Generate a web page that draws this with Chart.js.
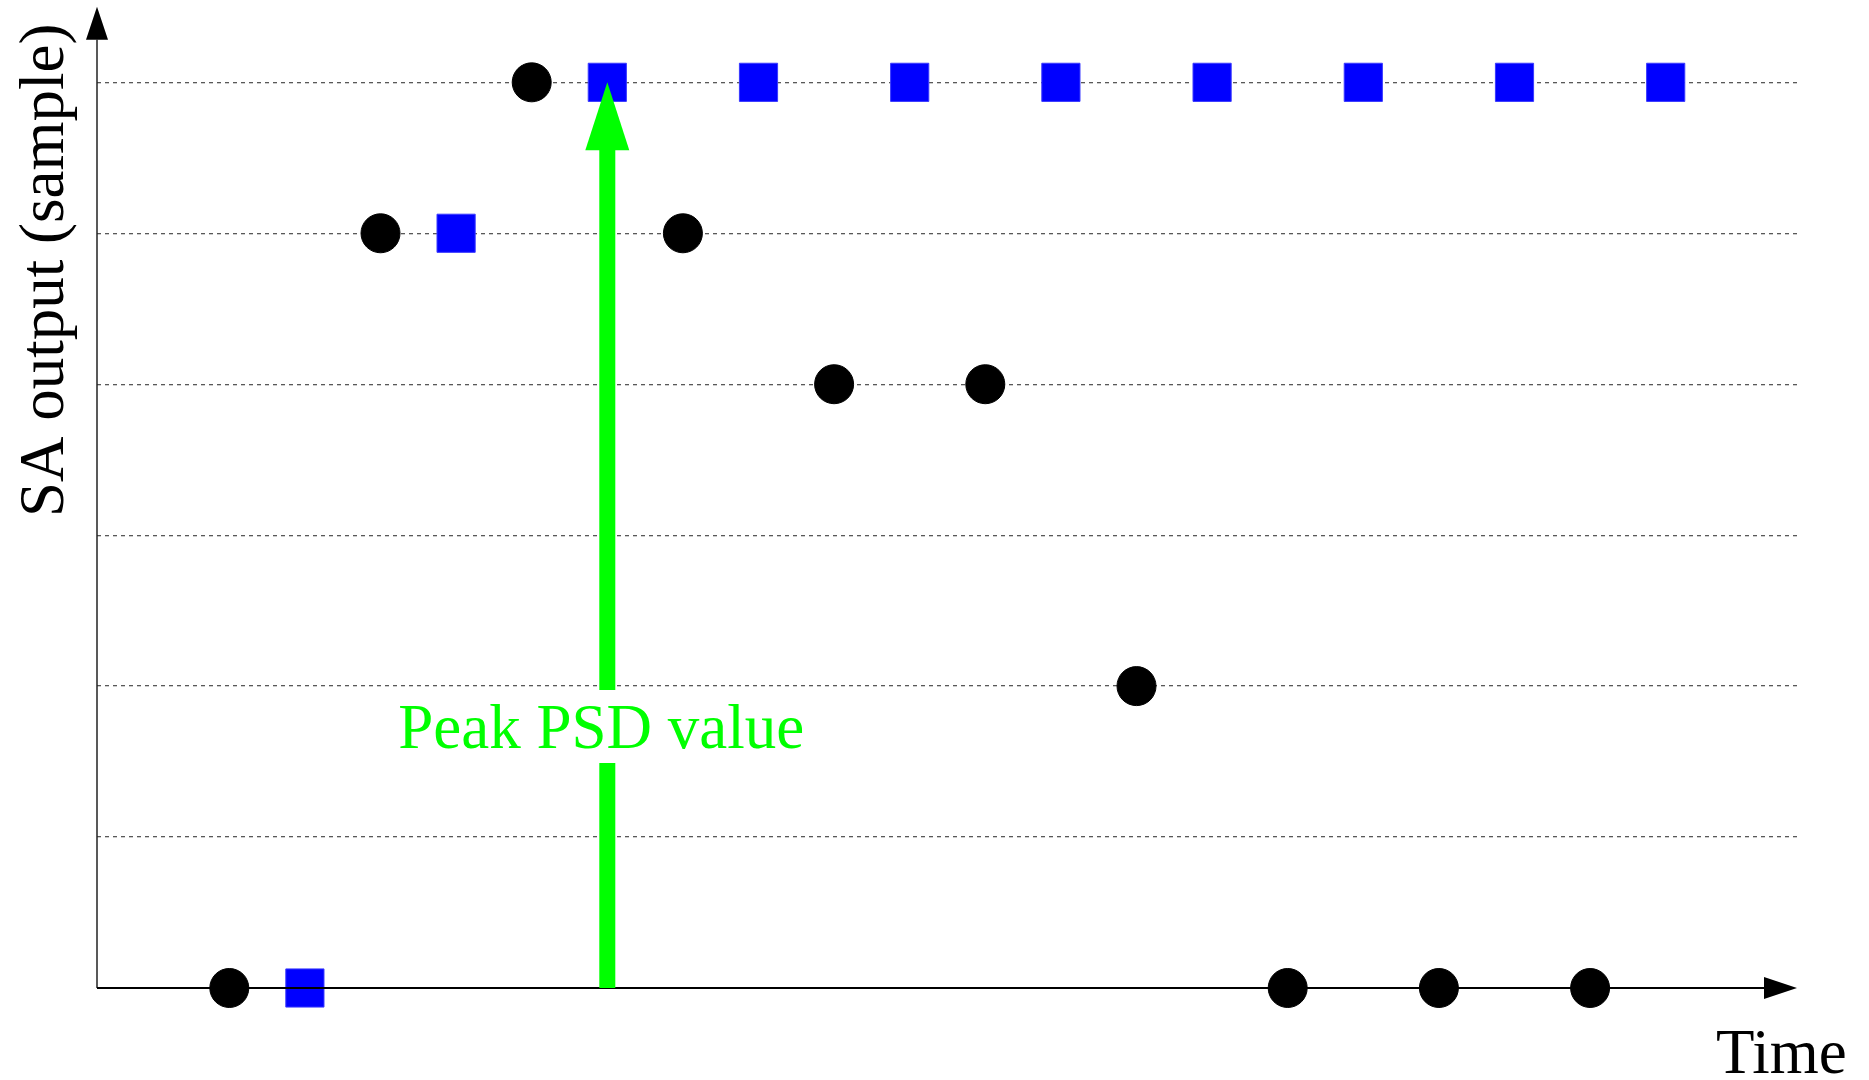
<!DOCTYPE html>
<html>
<head>
<meta charset="utf-8">
<script src="https://cdn.jsdelivr.net/npm/chart.js@4.4.1/dist/chart.umd.min.js"></script>
<style>
  html, body { margin: 0; padding: 0; background: #fff; }
  canvas { display: block; }
</style>
</head>
<body>
<canvas id="saChart" width="1869" height="1080"></canvas>
<script>
// sample times (in sample periods) and SA output levels
var circleTimes = [0, 1, 2, 3, 4, 5, 6, 7, 8, 9];
var circleLevels = [0, 5, 6, 5, 4, 4, 2, 0, 0, 0];
var squareTimes = [0.5, 1.5, 2.5, 3.5, 4.5, 5.5, 6.5, 7.5, 8.5, 9.5];
var squareLevels = [0, 5, 6, 6, 6, 6, 6, 6, 6, 6];
var levelTicks = [0, 1, 2, 3, 4, 5, 6];
var peakTime = 2.5;
var peakLevel = 6;

var serif = '"Liberation Serif", "Times New Roman", serif';

function toPoints(xs, ys) {
    return xs.map(function (x, i) { return { x: x, y: ys[i] }; });
}

// axes with arrows, axis titles and the green peak marker
var decorations = {
    id: 'decorations',
    afterDatasetsDraw: function (chart) {
        var ctx = chart.ctx;
        var area = chart.chartArea;
        var xs = chart.scales.x, ys = chart.scales.y;
        var y0 = ys.getPixelForValue(0);
        var yTop = ys.getPixelForValue(6.5);
        ctx.save();

        // y axis
        ctx.strokeStyle = '#222';
        ctx.lineWidth = 1.5;
        ctx.beginPath();
        ctx.moveTo(area.left, y0);
        ctx.lineTo(area.left, yTop + 33);
        ctx.stroke();
        ctx.fillStyle = '#000';
        ctx.beginPath();
        ctx.moveTo(area.left, yTop);
        ctx.lineTo(area.left - 11, yTop + 33);
        ctx.lineTo(area.left + 11, yTop + 33);
        ctx.closePath();
        ctx.fill();

        // x axis
        ctx.strokeStyle = '#000';
        ctx.lineWidth = 2;
        ctx.beginPath();
        ctx.moveTo(area.left, y0);
        ctx.lineTo(area.right - 34, y0);
        ctx.stroke();
        ctx.beginPath();
        ctx.moveTo(area.right - 1, y0);
        ctx.lineTo(area.right - 34, y0 - 11);
        ctx.lineTo(area.right - 34, y0 + 11);
        ctx.closePath();
        ctx.fill();

        // titles
        ctx.font = '63px ' + serif;
        ctx.fillStyle = '#000';
        ctx.textBaseline = 'alphabetic';
        ctx.textAlign = 'left';
        ctx.fillText('Time', 1716, 1073);
        ctx.save();
        ctx.translate(63, 517);
        ctx.rotate(-Math.PI / 2);
        ctx.fillText('SA output (sample)', 0, 0);
        ctx.restore();

        // peak arrow
        var px = xs.getPixelForValue(peakTime);
        var tip = ys.getPixelForValue(peakLevel);
        var green = '#00ff00';
        ctx.fillStyle = green;
        ctx.fillRect(px - 8, 763, 16, y0 - 763);
        ctx.fillRect(px - 8, tip + 66, 16, 690 - (tip + 66));
        ctx.beginPath();
        ctx.moveTo(px, tip);
        ctx.lineTo(px - 22, tip + 68);
        ctx.lineTo(px + 22, tip + 68);
        ctx.closePath();
        ctx.fill();
        ctx.textAlign = 'center';
        ctx.fillText('Peak PSD value', px - 6, 748);

        ctx.restore();
    }
};

var ctx = document.getElementById('saChart').getContext('2d');
var saChart = new Chart(ctx, {
    type: 'scatter',
    data: {
        datasets: [{
            label: 'samples',
            data: toPoints(circleTimes, circleLevels),
            pointStyle: 'circle',
            pointRadius: 19.5,
            pointHoverRadius: 19.5,
            backgroundColor: '#000',
            borderColor: '#000',
            borderWidth: 1
        }, {
            label: 'SA output',
            data: toPoints(squareTimes, squareLevels),
            pointStyle: 'rect',
            pointRadius: 27,
            pointHoverRadius: 27,
            backgroundColor: '#0000ff',
            borderColor: '#3a3aff',
            borderWidth: 1
        }]
    },
    options: {
        responsive: false,
        animation: false,
        devicePixelRatio: 1,
        clip: false,
        // top is held at the point overflow (28px) by Chart.js
        layout: { padding: { left: 97, right: 71, top: 28, bottom: 92 } },
        plugins: {
            legend: { display: false },
            tooltip: { enabled: false }
        },
        scales: {
            x: {
                type: 'linear',
                min: -0.875,
                max: 10.375,
                ticks: { display: false },
                grid: { display: false, drawTicks: false },
                border: { display: false }
            },
            y: {
                type: 'linear',
                min: 0,
                max: 6.36,
                afterBuildTicks: function (scale) {
                    scale.ticks = levelTicks.map(function (v) { return { value: v }; });
                },
                ticks: { display: false },
                grid: {
                    drawTicks: false,
                    lineWidth: 1.3,
                    color: function (c) {
                        return c.tick && c.tick.value > 0 ? '#585858' : 'rgba(0,0,0,0)';
                    }
                },
                border: { display: false, dash: [4, 4] }
            }
        }
    },
    plugins: [decorations]
});
</script>
</body>
</html>
